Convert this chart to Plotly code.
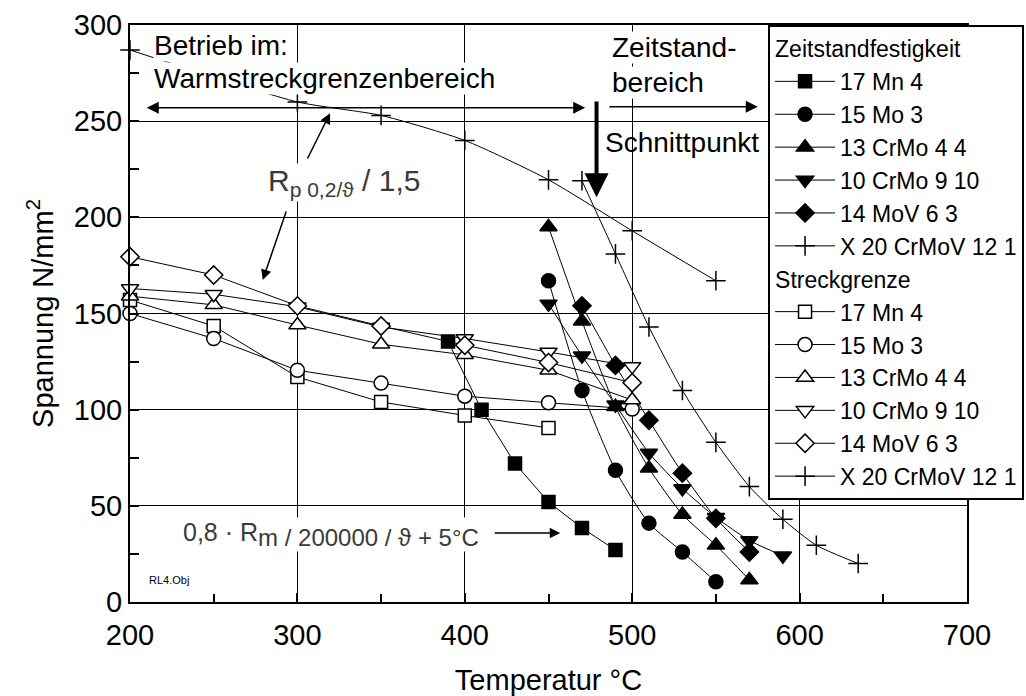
import plotly.graph_objects as go

# Streckgrenze (yield strength / 1.5) – temperatures in °C, stress in N/mm²
sg_temp = [200, 250, 300, 350, 400, 450, 500]
sg_17mn4 = [157, 143.5, 117, 104, 97, 90.5]
sg_15mo3 = [150, 137, 120.5, 113.8, 107, 103.6, 100.3]
sg_13crmo44 = [159, 154.5, 144, 134, 128.5, 120.5, 105]
sg_10crmo910 = [163, 160, 153.5, 143, 137, 130, 122.5]
sg_14mov63 = [179.5, 170, 154, 143.5, 133.5, 124.5, 114]
sg_x20_temp = [200, 300, 350, 400, 450, 500, 550]
sg_x20 = [287, 260, 253, 240, 219.5, 193, 167]

# Zeitstandfestigkeit (creep rupture strength)
zs_17mn4_temp = [390, 410, 430, 450, 470, 490]
zs_17mn4 = [135.5, 100, 72, 52, 38.5, 27]
zs_15mo3_temp = [450, 470, 490, 510, 530, 550]
zs_15mo3 = [167, 110, 68.5, 41, 26, 10.5]
zs_13crmo44_temp = [450, 470, 490, 510, 530, 550, 570]
zs_13crmo44 = [195, 146, 101.5, 69.5, 45.5, 29.5, 11.5]
zs_10crmo910_temp = [450, 470, 490, 510, 530, 550, 570, 590]
zs_10crmo910 = [155, 128, 102.5, 77.5, 59, 44, 32, 24]
zs_14mov63_temp = [470, 490, 510, 530, 550, 570]
zs_14mov63 = [154, 123, 94.5, 67, 43.5, 26]
zs_x20_temp = [470, 490, 510, 530, 550, 570, 590, 610, 635]
zs_x20 = [219, 181, 143, 110, 83, 60, 43, 29.5, 20]

FONT = "Liberation Sans, Arial, sans-serif"
NARROW = "Liberation Sans Narrow, Liberation Sans, sans-serif"

fig = go.Figure()


def add(x, y, name, symbol, size, group, title=None, shape="linear", lw=1.5):
    fig.add_trace(go.Scatter(
        x=x, y=y, name=name, mode="lines+markers",
        line=dict(color="black", width=1, shape=shape, smoothing=0.6),
        marker=dict(symbol=symbol, size=size, color="black",
                    line=dict(color="black", width=lw)),
        legendgroup=group,
        legendgrouptitle=dict(text=title, font=dict(size=23, family=FONT, color="black")) if title else None,
        cliponaxis=False,
    ))


add(zs_17mn4_temp, zs_17mn4, "17 Mn 4", "square", 13, "zs", "Zeitstandfestigkeit")
add(zs_15mo3_temp, zs_15mo3, "15 Mo 3", "circle", 14, "zs", shape="spline")
add(zs_13crmo44_temp, zs_13crmo44, "13 CrMo 4 4", "triangle-up", 15, "zs", shape="spline")
add(zs_10crmo910_temp, zs_10crmo910, "10 CrMo 9 10", "triangle-down", 15, "zs", shape="spline")
add(zs_14mov63_temp, zs_14mov63, "14 MoV 6 3", "diamond", 14, "zs", shape="spline")
add(zs_x20_temp, zs_x20, "X 20 CrMoV 12 1", "cross-thin", 14, "zs", shape="spline")

add(sg_temp[:len(sg_17mn4)], sg_17mn4, "17 Mn 4", "square-open", 13, "sg", "Streckgrenze")
add(sg_temp, sg_15mo3, "15 Mo 3", "circle-open", 14, "sg")
add(sg_temp, sg_13crmo44, "13 CrMo 4 4", "triangle-up-open", 15, "sg")
add(sg_temp, sg_10crmo910, "10 CrMo 9 10", "triangle-down-open", 15, "sg")
add(sg_temp, sg_14mov63, "14 MoV 6 3", "diamond-open", 14, "sg")
add(sg_x20_temp, sg_x20, "X 20 CrMoV 12 1", "cross-thin", 14, "sg", shape="spline")

# White fill behind the open markers
for tr in fig.data:
    if tr.marker.symbol.endswith("-open"):
        tr.marker.symbol = tr.marker.symbol.replace("-open", "")
        tr.marker.color = "white"

ann_font = dict(family=FONT, size=28, color="black")


def text(x, y, t, anchor="left", font=ann_font, bg="white"):
    fig.add_annotation(x=x, y=y, text=t, showarrow=False, xanchor=anchor,
                       yanchor="middle", font=font, bgcolor=bg, borderpad=0)


def arrow(x0, y0, x1, y1, width=1.5, head=2, size=1.6, side="end"):
    fig.add_annotation(x=x1, y=y1, ax=x0, ay=y0, axref="x", ayref="y",
                       xref="x", yref="y", text="", showarrow=True,
                       arrowhead=head, arrowsize=size, arrowwidth=width,
                       arrowcolor="black", arrowside=side)


text(213.5, 289.5, "Betrieb im:")
text(213.5, 272, "Warmstreckgrenzenbereich")
text(487.5, 288.5, "Zeitstand-")
text(487.5, 270, "bereich")
text(483, 239, "Schnittpunkt", bg="rgba(0,0,0,0)")

arrow(472.8, 257, 210, 257, side="end+start")
arrow(485.5, 257.5, 575, 257.5)
arrow(478.7, 261, 478.7, 210.5, width=4, head=2, size=1.2)

text(328, 218, "R<sub>p 0,2/ϑ</sub> / 1,5", anchor="center",
     font=dict(family=NARROW, size=30, color="#3a3a3a"))
arrow(305.6, 229.8, 319.5, 254.1, width=1.5, size=1.4)
arrow(293.6, 203.8, 279.3, 167.4, width=1.5, size=1.4)

text(320, 35, "0,8 · R<sub><span style='font-size:24px'>m / 200000 / ϑ + 5°C</span></sub>",
     anchor="center", font=dict(family=NARROW, size=25, color="#3a3a3a"))
arrow(417, 35.9, 457, 35.9, width=1.5, size=1.4)

text(210.5, 11.5, "RL4.Obj", font=dict(family=NARROW, size=11, color="black"), bg="rgba(0,0,0,0)")

axis_common = dict(
    showline=True, linecolor="black", linewidth=2, mirror=True,
    showgrid=True, gridcolor="black", gridwidth=1,
    ticks="inside", ticklen=9, tickwidth=2, tickcolor="black",
    tickfont=dict(family=FONT, size=29, color="black"),
    zeroline=False,
)

fig.update_xaxes(range=[200, 700], dtick=100, tick0=200, ticklabelstandoff=6,
                 minor=dict(dtick=50, ticks="inside", ticklen=8, tickwidth=2, tickcolor="black", showgrid=False),
                 title=dict(text="Temperatur °C", font=dict(family=FONT, size=29, color="black"), standoff=22),
                 **axis_common)
fig.update_yaxes(range=[0, 300], dtick=50, tick0=0,
                 minor=dict(dtick=25, ticks="inside", ticklen=9, tickwidth=2, tickcolor="black", showgrid=False),
                 title=dict(text="Spannung N/mm<sup>2</sup>", font=dict(family=FONT, size=29, color="black"), standoff=12),
                 **axis_common)

fig.update_layout(
    width=1026, height=696,
    margin=dict(l=130, r=59, t=25, b=94, autoexpand=False),
    plot_bgcolor="white", paper_bgcolor="white",
    showlegend=True,
    legend=dict(
        x=0.7623, y=1, xanchor="left", yanchor="top",
        bgcolor="white", bordercolor="black", borderwidth=2,
        font=dict(family=FONT, size=23, color="black"),
        traceorder="grouped", tracegroupgap=0, itemwidth=60,
    ),
)

fig.write_html("out.html")
